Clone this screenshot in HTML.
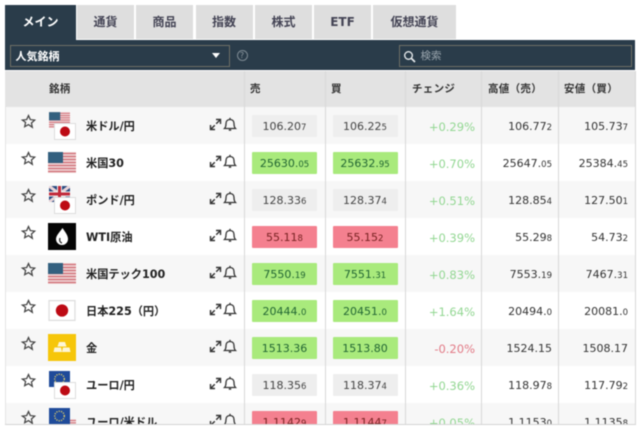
<!DOCTYPE html>
<html lang="ja"><head><meta charset="utf-8"><title>マーケット一覧</title>
<style>
html,body{margin:0;padding:0;background:#fff}
#page{position:relative;width:640px;height:434px;overflow:hidden;background:#fff;font-family:"DejaVu Sans","Noto Sans CJK JP",sans-serif;color:#333;filter:blur(.5px)}
#page div{position:absolute;box-sizing:border-box}
.tab{top:5px;height:33.5px;background:#dedede;color:#445;font:bold 12px/34px "DejaVu Sans","Noto Sans CJK JP",sans-serif;text-align:center}
.tab.on{background:#2a3c4a;color:#fff;height:36px;left:5px;width:71px}
.h{top:71px;height:36px;font:bold 10.5px/37px "DejaVu Sans","Noto Sans CJK JP",sans-serif;color:#333;letter-spacing:.3px}
.vl{top:71px;height:353px;width:1px;background:#d8d8d8}
.row{left:5px;width:630px;height:37px;background:#fff}
.row.g{background:#f7f7f7}
.name{left:81px;top:0;height:37px;font:bold 11.2px/39px "DejaVu Sans","Noto Sans CJK JP",sans-serif;color:#222;white-space:nowrap}
.b{top:8px;height:22px;width:65px;font-size:11px;line-height:24px;text-align:center;background:#eee;color:#444;border-radius:1px}
.s{left:247px}.u{left:327.5px}
.gr{background:#a9ea7c;color:#263}
.rd{background:#f4808f;color:#722}
.b small,.p small{font-size:8.5px}
.c{left:400px;width:70px;top:8px;height:22px;font-size:11.5px;line-height:24px;text-align:right;color:#93d793}
.c.n{color:#e27a86}
.p{top:8px;height:22px;font-size:11px;line-height:24px;text-align:right;color:#333;white-space:nowrap}
.hi{left:477px;width:70px}.lo{left:553px;width:70px}
</style></head>
<body>
<svg width="0" height="0" style="position:absolute">
<defs>
<symbol id="star" viewBox="0 0 24 24"><path d="M12 2.500l2.900 6.400 7 .8-5.200 4.700 1.400 6.900L12 17l-6.100 3.300 1.400-6.900L2.100 9.700l7-.8z" fill="none" stroke="#444" stroke-width="2"/></symbol>
<symbol id="expand" viewBox="0 0 13 13"><path d="M7 1.500h4.500V6M11.500 1.500L7.200 5.800M1.500 7v4.500H6M1.500 11.500L5.800 7.200" fill="none" stroke="#333" stroke-width="1.400"/></symbol>
<symbol id="bell" viewBox="0 0 14 15"><path d="M1.500 11.500c1.500-1.500 1.500-3 1.500-5 0-2.500 1.500-4 4-4s4 1.500 4 4c0 2 0 3.500 1.500 5z" fill="none" stroke="#333" stroke-width="1.300"/><path d="M5.800 13h2.400" stroke="#333" stroke-width="1.500"/><path d="M7 .8v1.500" stroke="#333" stroke-width="1.300"/></symbol>
<symbol id="us" viewBox="0 0 28 21"><rect width="28" height="21" fill="#f3dede"/><path d="M0 1.500h28M0 4.500h28M0 7.500h28M0 10.500h28M0 13.500h28M0 16.500h28M0 19.500h28" stroke="#d2747c" stroke-width="1.500"/><rect width="15" height="11" fill="#33607f"/></symbol>
<symbol id="jp" viewBox="0 0 22 17"><rect x=".5" y=".5" width="21" height="16" fill="#fff" stroke="#ddd"/><circle cx="11" cy="8.500" r="5" fill="#bd0a14"/></symbol>
<symbol id="gb" viewBox="0 0 21 16"><rect width="21" height="16" fill="#2a4a7f"/><path d="M0 0l21 16M21 0L0 16" stroke="#e8d4d8" stroke-width="3"/><path d="M10.500 0v16M0 8h21" stroke="#eee" stroke-width="5"/><path d="M10.500 0v16M0 8h21" stroke="#c22a3a" stroke-width="3"/></symbol>
<symbol id="eu" viewBox="0 0 21 16"><rect width="21" height="16" fill="#1f4b9a"/><circle cx="10.500" cy="8" r="4.800" fill="none" stroke="#d8c86a" stroke-width="1.400" stroke-dasharray="1.200 1.200"/></symbol>
</defs>
</svg>
<div id="page">
<div class="tab on">メイン</div>
<div class="tab" style="left:77px;width:57px">通貨</div>
<div class="tab" style="left:136px;width:57px">商品</div>
<div class="tab" style="left:195.500px;width:57px">指数</div>
<div class="tab" style="left:255px;width:57px">株式</div>
<div class="tab" style="left:314px;width:57px">ETF</div>
<div class="tab" style="left:373px;width:83px">仮想通貨</div>

<div style="left:5px;top:40px;width:630px;height:30px;background:#2a3c4a"></div>
<div style="left:9.500px;top:44.500px;width:220px;height:22px;border:1px solid #6f6f66;color:#fff;font:bold 11px/20px 'Noto Sans CJK JP',sans-serif;padding-left:5px">人気銘柄</div>
<div style="left:212px;top:53px;width:0;height:0;border:4px solid transparent;border-top:5px solid #fff;border-bottom:0"></div>
<div style="left:236.500px;top:49.500px;width:11px;height:11px;border:1px solid #7d8a93;border-radius:50%;color:#8d98a0;font:8px/9px 'DejaVu Sans',sans-serif;text-align:center">?</div>
<div style="left:398.500px;top:45px;width:233px;height:22px;border:1px solid #6f6f66;color:#9aa5ad;font:10.500px/20px 'Noto Sans CJK JP',sans-serif;padding-left:21px">検索</div>
<svg style="position:absolute;left:403px;top:50px" width="13" height="13" viewBox="0 0 13 13"><circle cx="5.500" cy="5.500" r="3.800" fill="none" stroke="#e4e8ea" stroke-width="1.400"/><path d="M8.500 8.500L12 12" stroke="#e4e8ea" stroke-width="1.800"/></svg>

<div style="left:5px;top:71px;width:630px;height:36px;background:#e3e3e3"></div>
<div class="h" style="left:49px">銘柄</div>
<div class="h" style="left:250px">売</div>
<div class="h" style="left:331px">買</div>
<div class="h" style="left:412px">チェンジ</div>
<div class="h" style="left:488px">高値（売）</div>
<div class="h" style="left:564px">安値（買）</div>

<div class="row g" style="top:107px">
<svg style="position:absolute;left:16px;top:7px" width="15" height="15"><use href="#star"/></svg>
<svg style="position:absolute;left:43.500px;top:5px" width="21" height="16"><use href="#us"/></svg>
<svg style="position:absolute;left:49px;top:16px" width="22" height="17"><use href="#jp"/></svg>
<div class="name">米ドル/円</div>
<svg style="position:absolute;left:204px;top:11px" width="13" height="13"><use href="#expand"/></svg>
<svg style="position:absolute;left:218px;top:10px" width="14" height="15"><use href="#bell"/></svg>
<div class="b s">106.20<small>7</small></div>
<div class="b u">106.22<small>5</small></div>
<div class="c">+0.29%</div>
<div class="p hi">106.77<small>2</small></div>
<div class="p lo">105.73<small>7</small></div>
</div>

<div class="row" style="top:144px">
<svg style="position:absolute;left:16px;top:7px" width="15" height="15"><use href="#star"/></svg>
<svg style="position:absolute;left:43px;top:8px" width="28" height="21"><use href="#us"/></svg>
<div class="name">米国30</div>
<svg style="position:absolute;left:204px;top:11px" width="13" height="13"><use href="#expand"/></svg>
<svg style="position:absolute;left:218px;top:10px" width="14" height="15"><use href="#bell"/></svg>
<div class="b s gr">25630.<small>05</small></div>
<div class="b u gr">25632.<small>95</small></div>
<div class="c">+0.70%</div>
<div class="p hi">25647.<small>05</small></div>
<div class="p lo">25384.<small>45</small></div>
</div>

<div class="row g" style="top:181px">
<svg style="position:absolute;left:16px;top:7px" width="15" height="15"><use href="#star"/></svg>
<svg style="position:absolute;left:43.500px;top:5px" width="21" height="16"><use href="#gb"/></svg>
<svg style="position:absolute;left:49px;top:16px" width="22" height="17"><use href="#jp"/></svg>
<div class="name">ポンド/円</div>
<svg style="position:absolute;left:204px;top:11px" width="13" height="13"><use href="#expand"/></svg>
<svg style="position:absolute;left:218px;top:10px" width="14" height="15"><use href="#bell"/></svg>
<div class="b s">128.33<small>6</small></div>
<div class="b u">128.37<small>4</small></div>
<div class="c">+0.51%</div>
<div class="p hi">128.85<small>4</small></div>
<div class="p lo">127.50<small>1</small></div>
</div>

<div class="row" style="top:218px">
<svg style="position:absolute;left:16px;top:7px" width="15" height="15"><use href="#star"/></svg>
<svg style="position:absolute;left:43px;top:5px" width="28" height="27" viewBox="0 0 28 27"><rect width="28" height="27" fill="#050505"/><path d="M14.500 5c3 4.500 5.500 7.500 5.500 11a6 6 0 0 1-12 0c0-3.500 3.500-6.500 6.500-11z" fill="#fff"/><path d="M12 15c-1 2.500 0 4.500 2 5" fill="none" stroke="#222" stroke-width="1.200"/></svg>
<div class="name">WTI原油</div>
<svg style="position:absolute;left:204px;top:11px" width="13" height="13"><use href="#expand"/></svg>
<svg style="position:absolute;left:218px;top:10px" width="14" height="15"><use href="#bell"/></svg>
<div class="b s rd">55.11<small>8</small></div>
<div class="b u rd">55.15<small>2</small></div>
<div class="c">+0.39%</div>
<div class="p hi">55.29<small>8</small></div>
<div class="p lo">54.73<small>2</small></div>
</div>

<div class="row g" style="top:255px">
<svg style="position:absolute;left:16px;top:7px" width="15" height="15"><use href="#star"/></svg>
<svg style="position:absolute;left:43px;top:8px" width="28" height="21"><use href="#us"/></svg>
<div class="name">米国テック100</div>
<svg style="position:absolute;left:204px;top:11px" width="13" height="13"><use href="#expand"/></svg>
<svg style="position:absolute;left:218px;top:10px" width="14" height="15"><use href="#bell"/></svg>
<div class="b s gr">7550.<small>19</small></div>
<div class="b u gr">7551.<small>31</small></div>
<div class="c">+0.83%</div>
<div class="p hi">7553.<small>19</small></div>
<div class="p lo">7467.<small>31</small></div>
</div>

<div class="row" style="top:292px">
<svg style="position:absolute;left:16px;top:7px" width="15" height="15"><use href="#star"/></svg>
<svg style="position:absolute;left:43px;top:8px" width="28" height="21"><use href="#jp"/></svg>
<div class="name">日本225（円）</div>
<svg style="position:absolute;left:204px;top:11px" width="13" height="13"><use href="#expand"/></svg>
<svg style="position:absolute;left:218px;top:10px" width="14" height="15"><use href="#bell"/></svg>
<div class="b s gr">20444.<small>0</small></div>
<div class="b u gr">20451.<small>0</small></div>
<div class="c">+1.64%</div>
<div class="p hi">20494.<small>0</small></div>
<div class="p lo">20081.<small>0</small></div>
</div>

<div class="row g" style="top:329px">
<svg style="position:absolute;left:16px;top:7px" width="15" height="15"><use href="#star"/></svg>
<svg style="position:absolute;left:43px;top:5px" width="28" height="27" viewBox="0 0 28 27"><rect width="28" height="27" fill="#f6c60a"/><path d="M11 8h6l1.500 4.500h-9zM6.500 13.500h6.500l1 4.500h-8.500zM15 13.500h6.500l1 4.500H14z" fill="#fdf6d8"/></svg>
<div class="name">金</div>
<svg style="position:absolute;left:204px;top:11px" width="13" height="13"><use href="#expand"/></svg>
<svg style="position:absolute;left:218px;top:10px" width="14" height="15"><use href="#bell"/></svg>
<div class="b s gr">1513.36</div>
<div class="b u gr">1513.80</div>
<div class="c n">-0.20%</div>
<div class="p hi">1524.15</div>
<div class="p lo">1508.17</div>
</div>

<div class="row" style="top:366px">
<svg style="position:absolute;left:16px;top:7px" width="15" height="15"><use href="#star"/></svg>
<svg style="position:absolute;left:43.500px;top:5px" width="21" height="16"><use href="#eu"/></svg>
<svg style="position:absolute;left:49px;top:16px" width="22" height="17"><use href="#jp"/></svg>
<div class="name">ユーロ/円</div>
<svg style="position:absolute;left:204px;top:11px" width="13" height="13"><use href="#expand"/></svg>
<svg style="position:absolute;left:218px;top:10px" width="14" height="15"><use href="#bell"/></svg>
<div class="b s">118.35<small>6</small></div>
<div class="b u">118.37<small>4</small></div>
<div class="c">+0.36%</div>
<div class="p hi">118.97<small>8</small></div>
<div class="p lo">117.79<small>2</small></div>
</div>

<div class="row g" style="top:403px;height:21px;overflow:hidden">
<svg style="position:absolute;left:16px;top:7px" width="15" height="15"><use href="#star"/></svg>
<svg style="position:absolute;left:49px;top:16px" width="22" height="17"><use href="#us"/></svg>
<svg style="position:absolute;left:43.500px;top:5px" width="21" height="16"><use href="#eu"/></svg>
<div class="name">ユーロ/米ドル</div>
<svg style="position:absolute;left:204px;top:11px" width="13" height="13"><use href="#expand"/></svg>
<svg style="position:absolute;left:218px;top:10px" width="14" height="15"><use href="#bell"/></svg>
<div class="b s rd">1.1142<small>9</small></div>
<div class="b u rd">1.1144<small>7</small></div>
<div class="c">+0.05%</div>
<div class="p hi">1.1153<small>0</small></div>
<div class="p lo">1.1135<small>8</small></div>
</div>

<div class="vl" style="left:244px"></div>
<div class="vl" style="left:324.500px"></div>
<div class="vl" style="left:405px"></div>
<div class="vl" style="left:481px"></div>
<div class="vl" style="left:558px"></div>
<div class="vl" style="left:635px"></div>
<div class="vl" style="left:5px;background:#e4e4e4"></div>
<div style="left:5px;top:424px;width:631px;height:1px;background:#d4d4d4"></div>
</div>
</body></html>
